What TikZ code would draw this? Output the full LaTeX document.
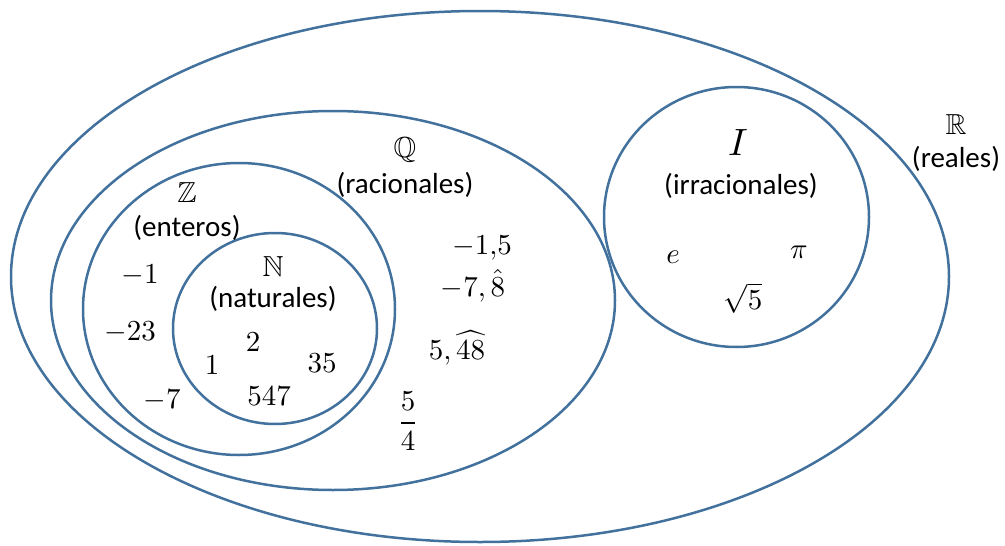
\documentclass[tikz,border=0pt]{standalone}
\usepackage{amsmath,amssymb}
\DeclareFontShape{OT1}{cmr}{m}{n}{<->cmr10}{}
\DeclareFontShape{OML}{cmm}{m}{it}{<->cmmi10}{}
\DeclareFontShape{OMS}{cmsy}{m}{n}{<->cmsy10}{}
\DeclareFontShape{OMX}{cmex}{m}{n}{<->cmex10}{}
\DeclareFontFamily{U}{msb}{}
\DeclareFontShape{U}{msb}{m}{n}{<->msbm10}{}
\usepackage[no-math]{fontspec}
\setmainfont{Carlito}
\usetikzlibrary{shapes.geometric}
\definecolor{setblue}{RGB}{65,113,156}
\begin{document}
\begin{tikzpicture}[x=1pt,y=-1pt,
  setshape/.style={draw=setblue, line width=2.5pt, ellipse, inner sep=0pt, outer sep=0pt},
  lbl/.style={font=\fontsize{29}{35}\selectfont, inner sep=0pt, text=black}]
\useasboundingbox (0,0) rectangle (1005,546);
% sets
\node[setshape, minimum width=938pt, minimum height=531pt] (R) at (480,276.5) {};
\node[setshape, minimum width=564pt, minimum height=379pt] (Q) at (333,300.5) {};
\node[setshape, minimum width=312pt, minimum height=292pt] (Z) at (239,309) {};
\node[setshape, minimum width=204pt, minimum height=191pt] (N) at (275,328.5) {};
\node[setshape, minimum width=265pt, minimum height=260pt] (I) at (736.5,217) {};
% labels
\node[lbl] (Rsym) at (956,125) {$\mathbb{R}$};
\node[lbl] (Rname) at (956,159) {(reales)};
\node[lbl] (Qsym) at (405,150) {$\mathbb{Q}$};
\node[lbl] (Qname) at (405,185) {(racionales)};
\node[lbl] (Zsym) at (187,193) {$\mathbb{Z}$};
\node[lbl] (Zname) at (187,228) {(enteros)};
\node[lbl] (Nsym) at (273,267) {$\mathbb{N}$};
\node[lbl] (Nname) at (273,299) {(naturales)};
\node[lbl, font=\fontsize{38}{44}\selectfont] (Isym) at (738,143) {$I$};
\node[lbl] (Iname) at (741,186) {(irracionales)};
% naturals
\node[lbl] (n2) at (253,342) {$2$};
\node[lbl] (n1) at (212,365) {$1$};
\node[lbl] (n35) at (322,363) {$35$};
\node[lbl] (n547) at (269,396) {$547$};
% integers
\node[lbl] (zm1) at (140,275) {$-1$};
\node[lbl] (zm23) at (130,332) {$-23$};
\node[lbl] (zm7) at (162,400) {$-7$};
% rationals
\node[lbl, anchor=base] (q1) at (482,254) {$-1{,}5$};
\node[lbl, anchor=base] (q2) at (473,296) {$-7,\smash{\hat{8}}$};
\node[lbl, anchor=base] (q3) at (457,359) {$5,\smash{\widehat{48}}$};
\node[lbl] (q4) at (408,421) {$\dfrac{5}{4}$};
% irrationals
\node[lbl] (ie) at (673,257) {$e$};
\node[lbl] (ipi) at (799,252) {$\pi$};
\node[lbl] (isq) at (743,298) {$\sqrt{5}$};
\end{tikzpicture}
\end{document}
